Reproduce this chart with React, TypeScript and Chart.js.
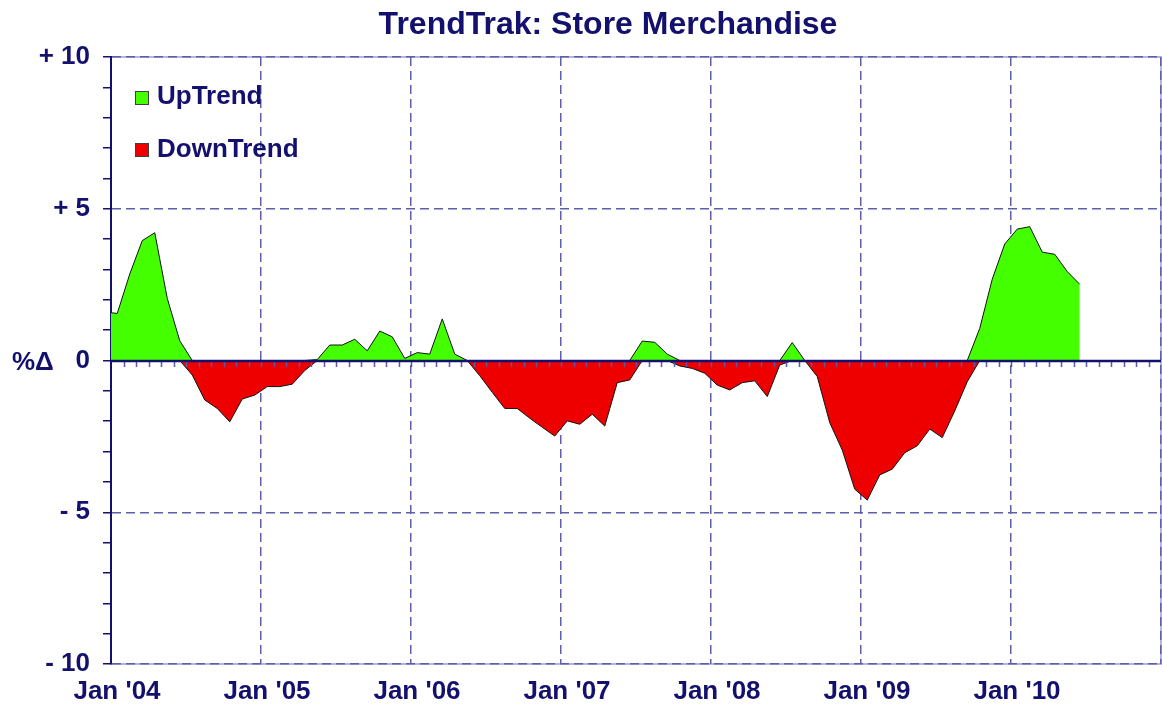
import React, { useEffect, useRef } from 'react';
import { Chart, registerables } from 'chart.js';

Chart.register(...registerables);

const TITLE = 'TrendTrak: Store Merchandise';
const Y_TITLE = '%Δ';
const seriesNames = ['UpTrend', 'DownTrend'];
const seriesColors = ['#44ff00', '#ee0000'];

// First value is mid-December 2003, then one value per month (mid-month) through June 2010.
const FIRST_POINT_MONTH = -0.5; // months after Jan 2004

const upValues = [
  1.6,
  1.55, 2.85, 3.95, 4.21, 2.05, 0.65, 0, 0, 0, 0, 0, 0,
  0, 0, 0, 0, 0.03, 0.51, 0.51, 0.7, 0.32, 0.97, 0.78, 0.07,
  0.26, 0.21, 1.37, 0.21, 0, 0, 0, 0, 0, 0, 0, 0,
  0, 0, 0, 0, 0, 0, 0.64, 0.6, 0.21, 0, 0, 0,
  0, 0, 0, 0, 0, 0, 0.59, 0, 0, 0, 0, 0,
  0, 0, 0, 0, 0, 0, 0, 0, 0, 1.06, 2.68, 3.84,
  4.33, 4.41, 3.57, 3.5, 2.93, 2.51,
];

const downValues = [
  0,
  0, 0, 0, 0, 0, 0, -0.48, -1.3, -1.58, -2.02, -1.27, -1.14,
  -0.86, -0.86, -0.78, -0.33, 0, 0, 0, 0, 0, 0, 0, 0,
  0, 0, 0, 0, 0, -0.5, -1.05, -1.58, -1.58, -1.9, -2.2, -2.49,
  -1.99, -2.1, -1.77, -2.16, -0.73, -0.64, 0, 0, 0, -0.18, -0.26, -0.42,
  -0.81, -0.97, -0.73, -0.67, -1.19, -0.15, 0, 0, -0.53, -2.05, -2.95, -4.24,
  -4.6, -3.77, -3.58, -3.04, -2.81, -2.26, -2.54, -1.66, -0.7, 0, 0, 0,
  0, 0, 0, 0, 0, 0,
];

const xTickLabels = ["Jan '04", "Jan '05", "Jan '06", "Jan '07", "Jan '08", "Jan '09", "Jan '10", ''];
const yTickValues = [10, 5, 0, -5, -10];
const yTickLabels = ['+ 10', '+ 5', '0', '- 5', '- 10'];

const NAVY = '#14106e';
const GRID = '#5e5eaa';
const FONT = "'Liberation Sans', Arial, sans-serif";

const decorPlugin = {
  id: 'decor',
  beforeDraw(chart: any) {
    const { ctx, chartArea: a } = chart;
    ctx.save();
    ctx.strokeStyle = '#b4b4dc';
    ctx.lineWidth = 2;
    ctx.strokeRect(a.left, a.top, a.right - a.left, a.bottom - a.top);
    ctx.restore();
  },
  afterDatasetsDraw(chart: any) {
    const { ctx, chartArea: a, scales } = chart;
    const xs = scales.x;
    const y0 = Math.round(scales.y.getPixelForValue(0));
    ctx.save();
    ctx.strokeStyle = '#5a5aa8';
    ctx.lineWidth = 1.5;
    ctx.beginPath();
    for (let m = Math.ceil(xs.min) + 1; m < xs.max; m++) {
      const px = Math.round(xs.getPixelForValue(m)) + 0.5;
      ctx.moveTo(px, y0);
      ctx.lineTo(px, y0 + 6);
    }
    ctx.stroke();
    ctx.strokeStyle = NAVY;
    ctx.lineWidth = 2.5;
    ctx.beginPath();
    ctx.moveTo(a.left, y0);
    ctx.lineTo(a.right, y0);
    ctx.stroke();
    ctx.restore();
  },
  afterDraw(chart: any) {
    const { ctx, chartArea: a } = chart;
    ctx.save();
    ctx.fillStyle = NAVY;
    ctx.font = `bold 32px ${FONT}`;
    ctx.textAlign = 'center';
    ctx.textBaseline = 'alphabetic';
    ctx.fillText(TITLE, 608, 34);

    ctx.font = `bold 26px ${FONT}`;
    ctx.textAlign = 'left';
    const y0 = chart.scales.y.getPixelForValue(0);
    ctx.fillText(Y_TITLE, 12, y0 + 9);

    chart.data.datasets.forEach((ds: any, i: number) => {
      const bx = a.left + 24;
      const by = a.top + 34 + i * 52;
      ctx.fillStyle = ds.backgroundColor;
      ctx.fillRect(bx, by, 14, 14);
      ctx.strokeStyle = '#404040';
      ctx.lineWidth = 1;
      ctx.strokeRect(bx + 0.5, by + 0.5, 13, 13);
      ctx.fillStyle = NAVY;
      ctx.fillText(ds.label, a.left + 46, a.top + 47 + i * 52.5);
    });
    ctx.restore();
  },
};

export default function App() {
  const canvasRef = useRef<HTMLCanvasElement>(null);

  useEffect(() => {
    const toPoints = (vals: number[]) => vals.map((y, i) => ({ x: i + FIRST_POINT_MONTH, y }));
    const valueSets = [upValues, downValues];
    const chart = new Chart(canvasRef.current as HTMLCanvasElement, {
      type: 'line',
      data: {
        datasets: seriesNames.map((name, i) => ({
          label: name,
          data: toPoints(valueSets[i]),
          backgroundColor: seriesColors[i],
          borderColor: '#111111',
          borderWidth: 1,
          fill: 'origin',
          pointRadius: 0,
          tension: 0,
        })),
      },
      options: {
        animation: false,
        responsive: false,
        maintainAspectRatio: false,
        layout: { padding: { top: 57, right: 1, left: 0, bottom: 0 } },
        plugins: {
          legend: { display: false },
          title: { display: false },
          tooltip: { enabled: false },
        },
        scales: {
          x: {
            type: 'linear',
            min: 0,
            max: 84,
            afterFit: (s: any) => { s.height = 43; s.paddingLeft = 0; s.paddingRight = 0; },
            ticks: {
              stepSize: 12,
              autoSkip: false,
              maxRotation: 0,
              padding: 12,
              labelOffset: 6,
              color: NAVY,
              font: { family: FONT, size: 26, weight: 'bold' },
              callback: (v: any) => xTickLabels[Math.round(Number(v) / 12)] ?? '',
            },
            grid: { color: GRID, lineWidth: 1.5, drawTicks: false },
            border: { display: false, dash: [9, 5] },
          },
          y: {
            min: -10,
            max: 10,
            afterFit: (s: any) => { s.width = 111; },
            ticks: {
              stepSize: 1,
              autoSkip: false,
              padding: 13,
              color: NAVY,
              font: { family: FONT, size: 26, weight: 'bold' },
              callback: (v: any) => {
                const i = yTickValues.indexOf(Number(v));
                return i >= 0 ? yTickLabels[i] : '';
              },
            },
            grid: {
              color: (c: any) => (c.tick && c.tick.value % 5 === 0 && c.tick.value !== 0 ? GRID : 'rgba(0,0,0,0)'),
              lineWidth: 1.5,
              tickColor: NAVY,
              tickLength: 8,
              tickWidth: 1.5,
            },
            border: { display: true, color: NAVY, width: 2, dash: [9, 5] },
          },
        },
      },
      plugins: [decorPlugin],
    } as any);
    return () => chart.destroy();
  }, []);

  return (
    <div style={{ position: 'fixed', left: 0, top: 0, width: 1162, height: 707, background: '#ffffff' }}>
      <canvas ref={canvasRef} width={1162} height={707} style={{ display: 'block' }} />
    </div>
  );
}
